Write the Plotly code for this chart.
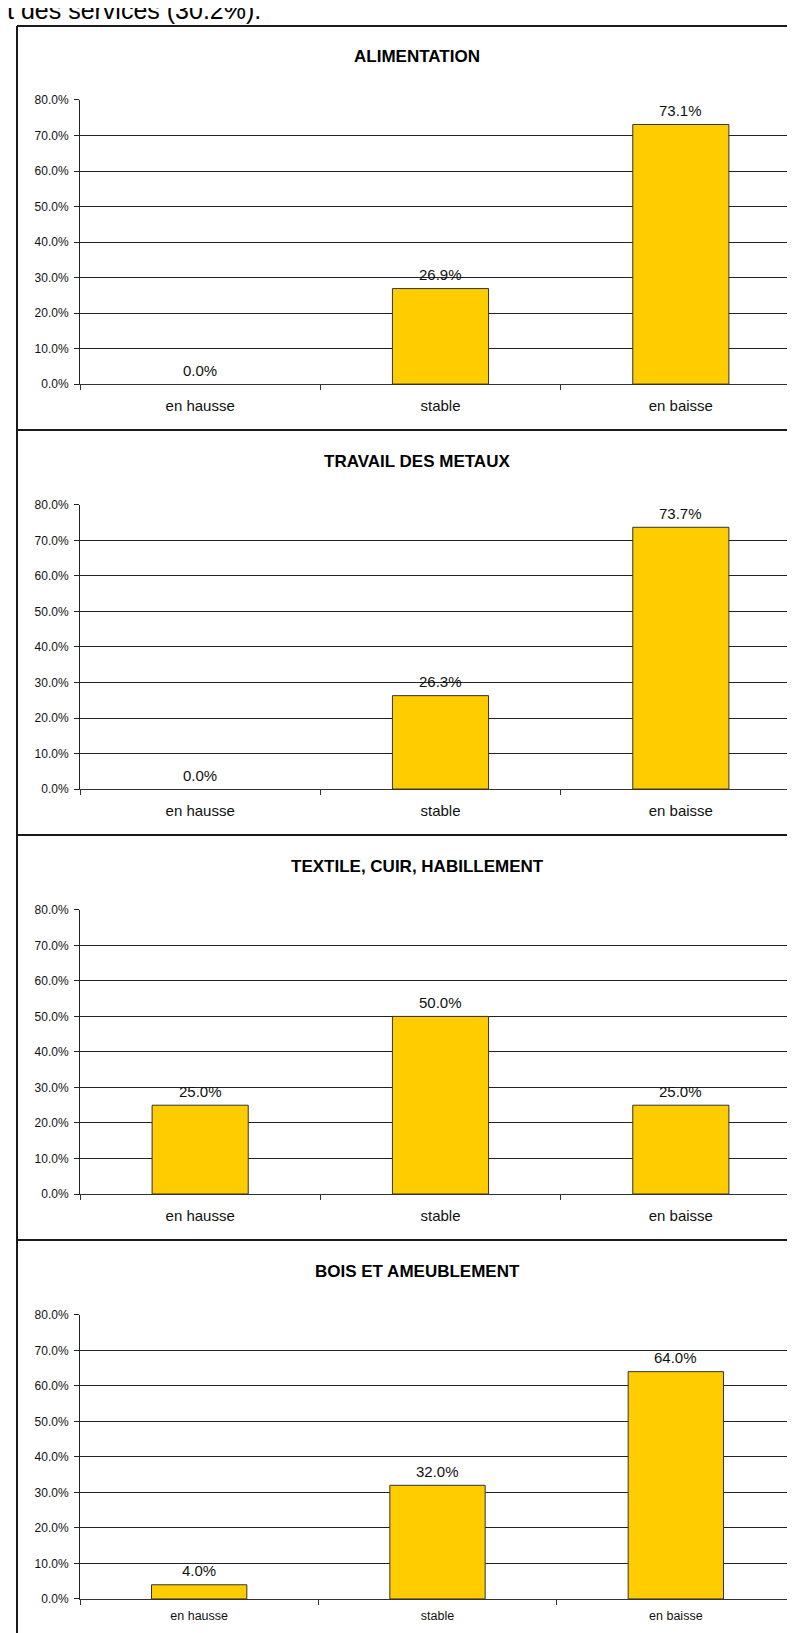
import plotly.graph_objects as go

W, H = 795, 1633

categories = ["en hausse", "stable", "en baisse"]
titles = ["ALIMENTATION", "TRAVAIL DES METAUX", "TEXTILE, CUIR, HABILLEMENT", "BOIS ET AMEUBLEMENT"]
alimentation = [0.0, 26.9, 73.1]
travail_metaux = [0.0, 26.3, 73.7]
textile_cuir = [25.0, 50.0, 25.0]
bois_ameublement = [4.0, 32.0, 64.0]
series = [alimentation, travail_metaux, textile_cuir, bois_ameublement]
y_ticks = [0, 10, 20, 30, 40, 50, 60, 70, 80]
intro_text = "t des services (30.2%)."

FONT = "Liberation Sans, Arial, sans-serif"
BAR = "#FFCC00"
GRID = "#222222"

def px_x(x):
    return x / W

def px_y(y):
    return 1 - y / H

PANEL_STEP = 408.45
fig = go.Figure()

for k, (vals, title) in enumerate(zip(series, titles)):
    off = k * PANEL_STEP
    xa = "x" if k == 0 else f"x{k+1}"
    ya = "y" if k == 0 else f"y{k+1}"
    fig.add_trace(go.Bar(
        x=categories, y=vals, xaxis=xa, yaxis=ya,
        marker=dict(color=BAR, line=dict(color="#333333",
                                         width=[0 if v == 0 else 1 for v in vals])),
        width=0.4, showlegend=False, hoverinfo="x+y",
    ))
    right = 793 if k < 3 else 787
    cat_size = 15 if k < 3 else 12.5
    xkey = "xaxis" if k == 0 else f"xaxis{k+1}"
    ykey = "yaxis" if k == 0 else f"yaxis{k+1}"
    fig.layout[xkey] = dict(
        domain=[px_x(72), px_x(right)], anchor=ya,
        type="category", range=[-0.5, 2.5],
        showline=True, linecolor="#333333", linewidth=1,
        ticks="outside", ticklen=5, tickcolor="#333333", tickson="boundaries",
        showgrid=False, zeroline=False,
        tickfont=dict(family=FONT, size=cat_size, color="#111111"),
        ticklabelstandoff=8 if k < 3 else 5,
        fixedrange=True,
    )
    fig.layout[ykey] = dict(
        domain=[px_y(372.3 + off), px_y(85.7 + off)], anchor=xa,
        range=[0, 80], tickvals=y_ticks,
        ticktext=[f"{t:.1f}%" for t in y_ticks],
        showline=True, linecolor="#222222", linewidth=1,
        ticks="outside", ticklen=5, tickcolor="#222222",
        showgrid=True, gridcolor=GRID, gridwidth=1, zeroline=False,
        tickfont=dict(family=FONT, size=12, color="#111111"),
        ticklabelstandoff=3,
        fixedrange=True,
    )
    # title
    fig.add_annotation(
        xref="paper", yref="paper", x=px_x(409), y=px_y(41.7 + off),
        text=f"<b>{title}</b>", showarrow=False,
        font=dict(family=FONT, size=17, color="#000000"),
        xanchor="center", yanchor="middle",
    )
    # data labels
    for c, v in zip(categories, vals):
        fig.add_annotation(
            xref=xa, yref=ya, x=c, y=v, text=f"{v:.1f}%", showarrow=False,
            yshift=14, yanchor="middle",
            font=dict(family=FONT, size=15, color="#111111"),
        )

# panel frames
frame_lines = [11, 418.7, 827.2, 1235.7]
for yline in frame_lines:
    fig.add_shape(type="line", xref="paper", yref="paper",
                  x0=px_x(9), x1=px_x(820), y0=px_y(yline), y1=px_y(yline),
                  line=dict(color="#1a1a1a", width=2))
fig.add_shape(type="line", xref="paper", yref="paper",
              x0=px_x(9), x1=px_x(9), y0=px_y(11), y1=px_y(1650),
              line=dict(color="#1a1a1a", width=2))

# clipped intro text at top
fig.add_annotation(
    xref="paper", yref="paper", x=px_x(-3), y=px_y(11),
    text=intro_text, showarrow=False, xanchor="left", yanchor="bottom",
    font=dict(family=FONT, size=25, color="#000000"),
)

fig.update_layout(
    width=W, height=H,
    margin=dict(l=0, r=0, t=0, b=0),
    paper_bgcolor="white", plot_bgcolor="white",
    bargap=0.6,
)

fig.write_html("out.html")
